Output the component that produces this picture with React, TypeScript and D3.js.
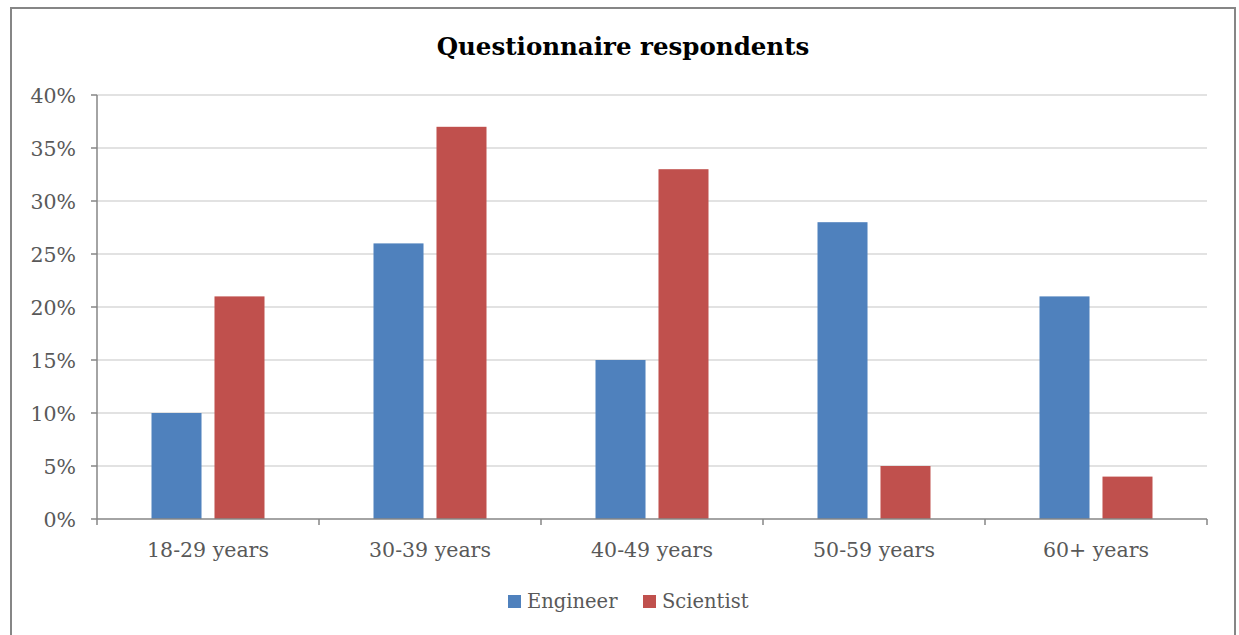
import React from "react";
import * as d3 from "d3";

const categories = ["18-29 years", "30-39 years", "40-49 years", "50-59 years", "60+ years"];
const seriesNames = ["Engineer", "Scientist"];
const engineer = [10, 26, 15, 28, 21];
const scientist = [21, 37, 33, 5, 4];
const yTicks = [0, 5, 10, 15, 20, 25, 30, 35, 40];
const colors = ["#4F81BD", "#C0504D"];

const W = 1239, H = 635;
const left = 97, right = 1207, top = 95, bottom = 519;
const FONT = "'DejaVu Serif', serif";
const FS = 20.5;

export default function App() {
  const x0 = d3.scaleBand<string>().domain(categories).range([left, right]).padding(0);
  const bw = x0.bandwidth();
  const x1 = d3.scaleBand<string>().domain(seriesNames).range([(bw - 113) / 2, (bw + 113) / 2]).paddingInner(0.206).paddingOuter(0);
  const y = d3.scaleLinear().domain([0, 40]).range([bottom, top]);
  const values = [engineer, scientist];
  const boundaries = [...categories.map((c) => x0(c)!), right];

  return (
    <div style={{ position: "absolute", left: 0, top: 0 }}>
      <svg width={W} height={H} style={{ display: "block", background: "#fff" }}>
        <rect x={11} y={8} width={1224} height={640} fill="#fff" stroke="#868686" strokeWidth={2} />
        <text x={623} y={55} textAnchor="middle" fontFamily={FONT} fontWeight="bold" fontSize={24.5} fill="#000">
          Questionnaire respondents
        </text>
        {yTicks.map((t) => (
          <g key={t}>
            {t > 0 && <line x1={left} x2={right} y1={y(t)} y2={y(t)} stroke="#d9d9d9" strokeWidth={1.5} />}
            <line x1={left - 6} x2={left} y1={y(t)} y2={y(t)} stroke="#868686" strokeWidth={1.5} />
            <text x={left - 21} y={y(t) + 8} textAnchor="end" fontFamily={FONT} fontSize={FS} fill="#595959">
              {t}%
            </text>
          </g>
        ))}
        {categories.map((c, i) =>
          seriesNames.map((s, j) => (
            <rect
              key={c + s}
              x={x0(c)! + x1(s)!}
              y={y(values[j][i])}
              width={x1.bandwidth()}
              height={y(0) - y(values[j][i])}
              fill={colors[j]}
            />
          ))
        )}
        <line x1={left} x2={left} y1={top} y2={bottom} stroke="#868686" strokeWidth={1.5} />
        <line x1={left} x2={right} y1={bottom} y2={bottom} stroke="#868686" strokeWidth={1.5} />
        {boundaries.map((b, i) => (
          <line key={i} x1={b} x2={b} y1={bottom} y2={bottom + 6} stroke="#868686" strokeWidth={1.5} />
        ))}
        {categories.map((c) => (
          <text key={c} x={x0(c)! + bw / 2} y={557} textAnchor="middle" fontFamily={FONT} fontSize={FS} fill="#595959">
            {c}
          </text>
        ))}
        {seriesNames.map((s, j) => {
          const lx = [508, 643][j];
          return (
            <g key={s}>
              <rect x={lx} y={595} width={13} height={13} fill={colors[j]} />
              <text x={lx + 19} y={608} fontFamily={FONT} fontSize={19.5} fill="#595959">
                {s}
              </text>
            </g>
          );
        })}
      </svg>
    </div>
  );
}
